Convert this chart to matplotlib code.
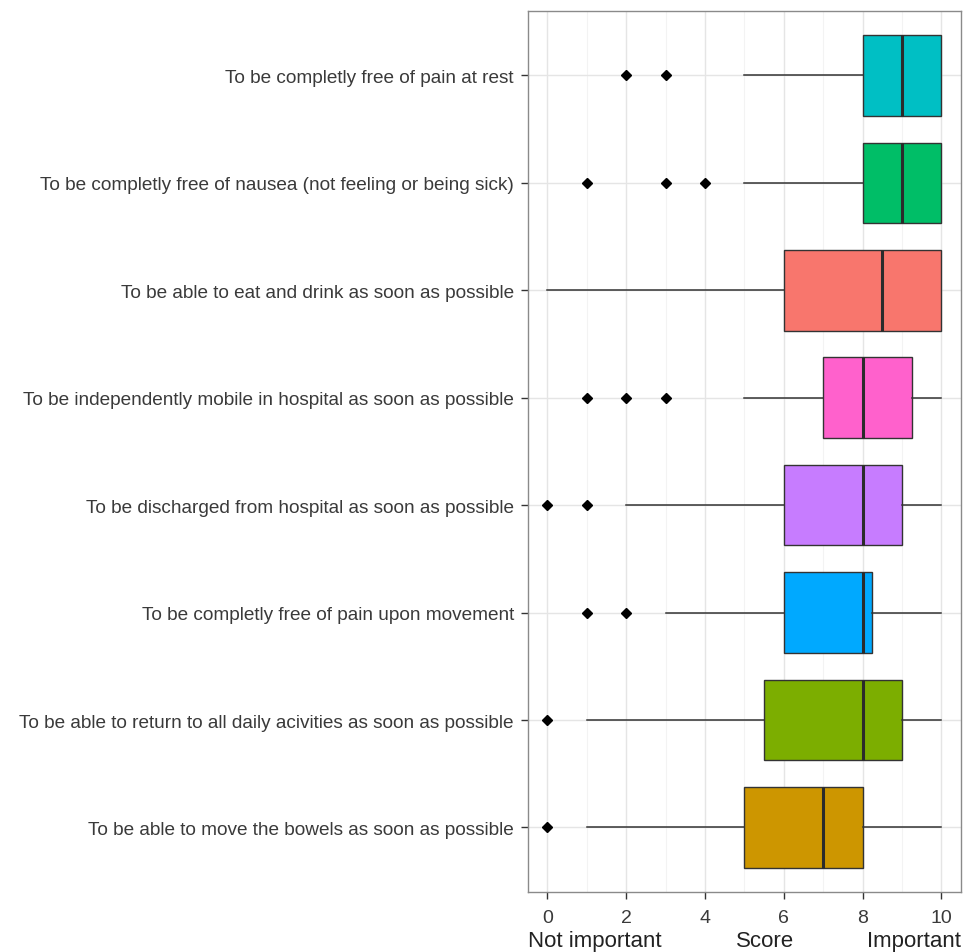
"""Horizontal box plots of importance scores (ggplot-like look)."""

import matplotlib
matplotlib.use("Agg")
import matplotlib.pyplot as plt
from matplotlib.ticker import MultipleLocator


# categories, bottom to top
labels = [
    "To be able to move the bowels as soon as possible",
    "To be able to return to all daily acivities as soon as possible",
    "To be completly free of pain upon movement",
    "To be discharged from hospital as soon as possible",
    "To be independently mobile in hospital as soon as possible",
    "To be able to eat and drink as soon as possible",
    "To be completly free of nausea (not feeling or being sick)",
    "To be completly free of pain at rest",
]
q1 = [5, 5.5, 6, 6, 7, 6, 8, 8]
medians = [7, 8, 8, 8, 8, 8.5, 9, 9]
q3 = [8, 9, 8.25, 9, 9.25, 10, 10, 10]
whisk_lo = [1, 1, 3, 2, 5, 0, 5, 5]
whisk_hi = [10, 10, 10, 10, 10, 10, 10, 10]
outliers = [[0], [0], [1, 2], [0, 1], [1, 2, 3], [], [1, 3, 4], [2, 3]]
fills = ["#CD9600", "#7CAE00", "#00A9FF", "#C77CFF",
         "#FF61CC", "#F8766D", "#00BE67", "#00BFC4"]
xticks = [0, 2, 4, 6, 8, 10]

LABEL_FONT = ["Liberation Sans", "DejaVu Sans"]
TITLE_FONT = ["Liberation Sans", "DejaVu Sans"]


def main():
    fig = plt.figure(figsize=(9.63, 9.53), dpi=100)
    ax = fig.add_axes([0.548, 0.063, 0.450, 0.9245])

    stats = [
        dict(med=m, q1=a, q3=b, whislo=lo, whishi=hi, fliers=f)
        for m, a, b, lo, hi, f in zip(medians, q1, q3, whisk_lo, whisk_hi, outliers)
    ]
    pos = list(range(1, len(labels) + 1))
    bp = ax.bxp(
        stats, positions=pos, widths=0.75, orientation="horizontal",
        patch_artist=True, showcaps=False,
        boxprops=dict(edgecolor="#333333", linewidth=1.0),
        whiskerprops=dict(color="#333333", linewidth=1.1),
        medianprops=dict(color="#2b2b2b", linewidth=2.2),
        flierprops=dict(marker="D", markerfacecolor="black", markeredgecolor="black",
                        markersize=5.5, linestyle="none"),
        zorder=3,
    )
    for patch, col in zip(bp["boxes"], fills):
        patch.set_facecolor(col)

    ax.set_xlim(-0.5, 10.5)
    ax.set_ylim(0.4, len(labels) + 0.6)
    ax.set_xticks(xticks)
    ax.xaxis.set_minor_locator(MultipleLocator(1))
    ax.set_yticks(pos)
    ax.set_yticklabels(labels)

    ax.grid(True, which="major", color="#E5E5E5", linewidth=1.0, zorder=0)
    ax.grid(True, which="minor", axis="x", color="#F3F3F3", linewidth=0.8, zorder=0)
    ax.set_axisbelow(True)

    for sp in ax.spines.values():
        sp.set_color("#8a8a8a")
        sp.set_linewidth(1.0)

    ax.tick_params(which="major", length=5, width=1, color="#333333")
    ax.tick_params(axis="y", pad=5)
    ax.tick_params(axis="x", pad=7)
    ax.tick_params(which="minor", length=0)
    for t in ax.get_yticklabels():
        t.set_fontfamily(LABEL_FONT)
        t.set_fontsize(13.7)
        t.set_color("#3a3a3a")
    for t in ax.get_xticklabels():
        t.set_fontfamily(LABEL_FONT)
        t.set_fontsize(14)
        t.set_color("#3a3a3a")

    # axis title split into three parts
    ty = -0.0613
    ax.text(0.0, ty, "Not important", transform=ax.transAxes, ha="left", va="baseline",
            fontsize=16, family=TITLE_FONT, color="#222222")
    ax.text(0.547, ty, "Score", transform=ax.transAxes, ha="center", va="baseline",
            fontsize=16, family=TITLE_FONT, color="#222222")
    ax.text(1.0, ty, "Important", transform=ax.transAxes, ha="right", va="baseline",
            fontsize=16, family=TITLE_FONT, color="#222222")

    fig.savefig("out.png", dpi=100)


if __name__ == "__main__":
    main()
